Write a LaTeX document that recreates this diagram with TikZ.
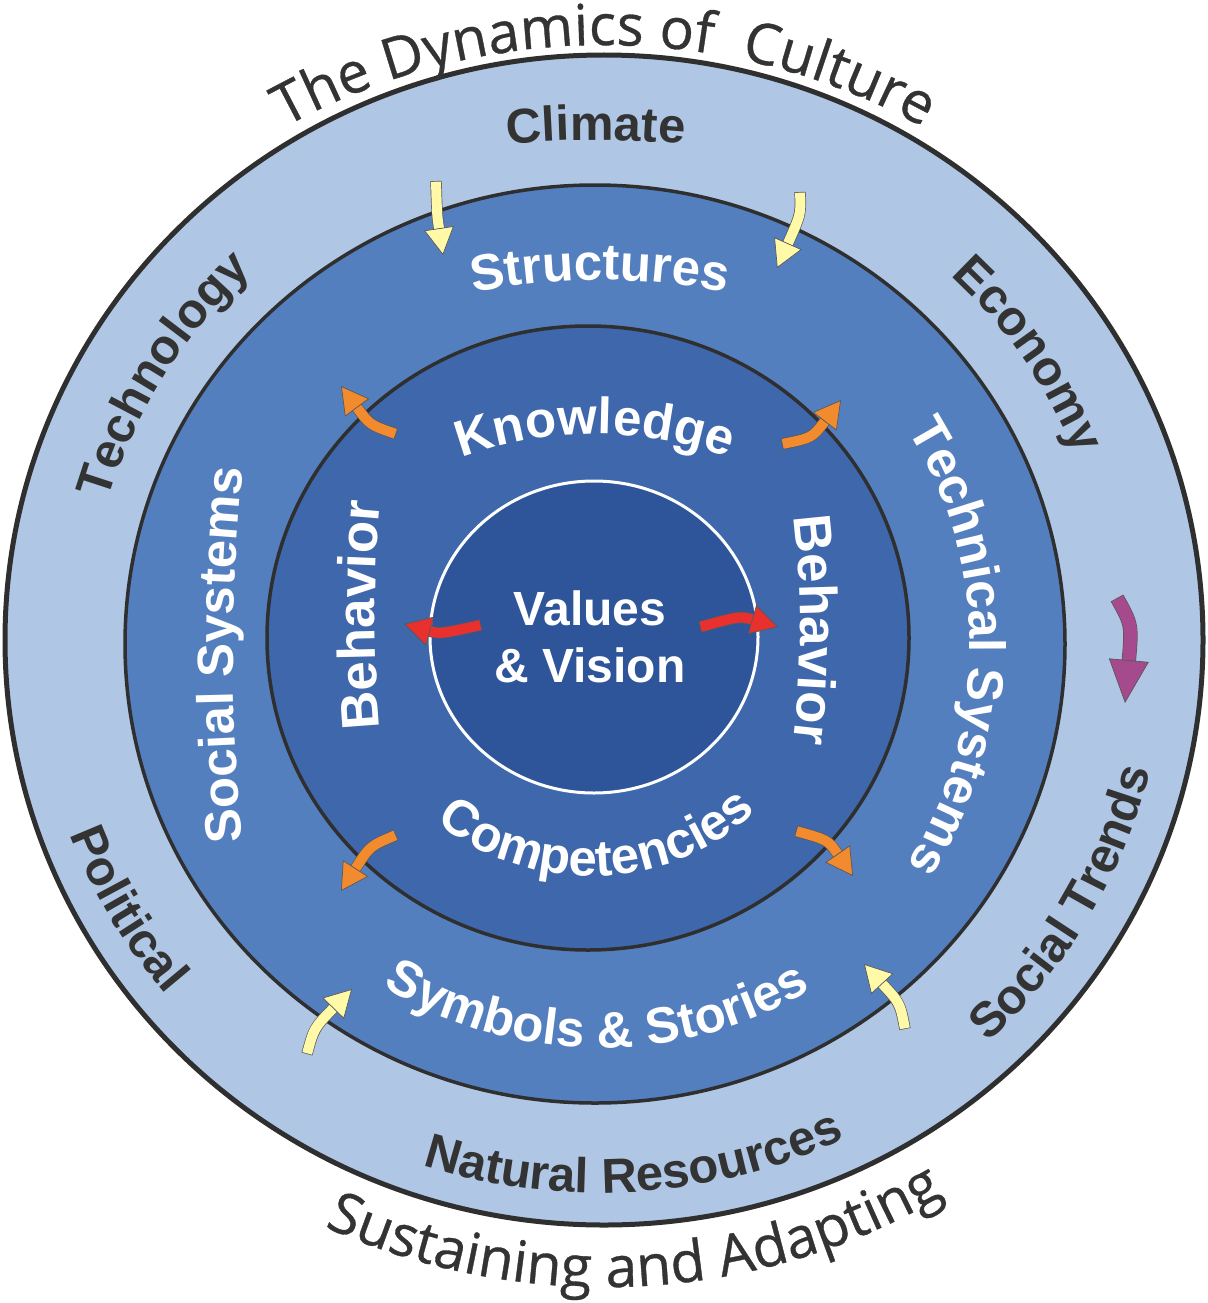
\documentclass[tikz,border=0pt]{standalone}
\usepackage{fontspec}
\newfontfamily\lsans{Liberation Sans}
\newfontfamily\osans{Open Sans}[FakeBold=0.6]
\usetikzlibrary{decorations.text,arrows.meta}
\definecolor{bandlight}{HTML}{AFC7E5}
\definecolor{bandmid}{HTML}{547FBF}
\definecolor{banddeep}{HTML}{3E67AC}
\definecolor{core}{HTML}{2E559A}
\definecolor{rim}{HTML}{2F2F2F}
\definecolor{labelgray}{HTML}{333333}
\definecolor{flowyellow}{HTML}{FFF9A8}
\definecolor{floworange}{HTML}{F28A2E}
\definecolor{flowred}{HTML}{E8302F}
\definecolor{flowpurple}{HTML}{A54A8D}
\newcommand{\titlefont}{\osans\fontsize{57}{57}\selectfont}
\newcommand{\ringfont}{\lsans\bfseries\fontsize{49}{49}\selectfont}
\newcommand{\bandfont}{\lsans\bfseries\fontsize{51}{51}\selectfont}
\newcommand{\behfont}{\lsans\bfseries\fontsize{53}{53}\selectfont}
\newcommand{\flow}[4]{%
  \draw[flowrim] #2 .. controls #3 .. #4;
  \draw[flowbody=#1] #2 .. controls #3 .. #4;}
\tikzset{
  ring/.style={draw=rim,line width=3.5pt},
  curved/.style={decorate,decoration={text along path,text align=center,text color=#1}},
  flowrim/.style={draw=rim!80,line width=11.4pt,shorten >=25pt},
  flowbody/.style={draw=#1,line width=10pt,shorten <=0.7pt,
    -{Triangle[width=30pt,length=27pt,fill=#1,color=rim!80,line width=0.7pt]}},
}
\begin{document}
\begin{tikzpicture}[x=1pt,y=1pt]
\useasboundingbox (0,0) rectangle (1207,-1303);
\draw[ring,fill=bandlight,line width=5pt] (604,-640) ellipse[x radius=599,y radius=585];
\draw[ring,fill=bandmid] (595,-644) ellipse[x radius=470,y radius=459];
\draw[ring,fill=banddeep] (588,-638) ellipse[x radius=321,y radius=312];
\draw[draw=white,line width=3pt,fill=core] (594,-637) ellipse[x radius=164,y radius=156];
\node[text=white,align=center,font=\lsans\bfseries\fontsize{48}{57}\selectfont] (vision) at (590,-637) {Values\\\& Vision};

\path[curved=labelgray,decoration={text={|\titlefont|The Dynamics of{\ } Culture}}] (604,-705) ++(130:660) arc[start angle=130,end angle=50,radius=660];
\path[curved=labelgray,decoration={text={|\titlefont|Sustaining and Adapting}}] (604,-640) ++(213:662 and 647) arc[start angle=213,end angle=333,x radius=662,y radius=647];

\path[curved=labelgray,decoration={text={|\ringfont|Climate}}] (596,-1040) ++(100:900) arc[start angle=100,end angle=80,radius=900];
\path[curved=labelgray,decoration={text={|\ringfont|Technology}}] (600,-640) ++(188.5:512 and 502) arc[start angle=188.5,end angle=108.5,x radius=512,y radius=502];
\path[curved=labelgray,decoration={text={|\ringfont|Economy}}] (600,-640) ++(74:512 and 500) arc[start angle=74,end angle=-6,x radius=512,y radius=500];
\path[curved=labelgray,decoration={text={|\ringfont|Political}}] (600,-640) ++(170:566 and 553) arc[start angle=170,end angle=250,x radius=566,y radius=553];
\path[curved=labelgray,decoration={text={|\ringfont|Social Trends}}] (600,-640) ++(290:566 and 553) arc[start angle=290,end angle=370,x radius=566,y radius=553];
\path[curved=labelgray,decoration={text={|\ringfont|Natural Resources}}] (600,-640) ++(228.7:566 and 553) arc[start angle=228.7,end angle=318.7,x radius=566,y radius=553];

\path[curved=white,decoration={text={|\bandfont|Structures}}] (600,-930) ++(115:650) arc[start angle=115,end angle=65,radius=650];
\path[curved=white,decoration={text={|\bandfont|Social Systems}}] (2020,-655) ++(195:1787) arc[start angle=195,end angle=165,radius=1787];
\path[curved=white,decoration={text={|\bandfont|Technical Systems}}] (560,-647) ++(55:410) arc[start angle=55,end angle=-55,radius=410];
\path[curved=white,decoration={text={|\bandfont|Symbols {\&} Stories}}] (600,-644) ++(214.5:410 and 404) arc[start angle=214.5,end angle=324.5,x radius=410,y radius=404];

\path[curved=white,decoration={text={|\bandfont|Knowledge}}] (595,-814) ++(125:380) arc[start angle=125,end angle=55,radius=380];
\path[curved=white,decoration={text={|\behfont|Behavior}}] (1632,-615) ++(190:1257) arc[start angle=190,end angle=170,radius=1257];
\path[curved=white,decoration={text={|\behfont|Behavior}}] (-134,-630) ++(15:934) arc[start angle=15,end angle=-15,radius=934];
\path[curved=white,decoration={text={|\bandfont|Competencies}}] (590,-638) ++(212:243 and 238) arc[start angle=212,end angle=332,x radius=243,y radius=238];

\flow{flowyellow}{(436,-181)}{(437,-215)}{(443,-255)}
\flow{flowyellow}{(800,-192)}{(801,-214)}{(777,-268)}
\flow{flowyellow}{(307,-1054)}{(314,-1028)}{(352,-989)}
\flow{flowyellow}{(905,-1029)}{(900,-1003)}{(864,-964)}
\flow{floworange}{(396,-434)}{(370,-425)}{(341,-386)}
\flow{floworange}{(782,-444)}{(812,-438)}{(841,-400)}
\flow{floworange}{(396,-835)}{(370,-846)}{(341,-891)}
\flow{floworange}{(796,-831)}{(828,-840)}{(853,-876)}
\flow{flowred}{(481,-625)}{(440,-634)}{(404,-624)}
\flow{flowred}{(700,-627)}{(740,-616)}{(778,-627)}
\draw[flowrim,line width=14.4pt,shorten >=40pt] (1117,-598) .. controls (1132,-625) .. (1125,-703);
\draw[flowbody=flowpurple,line width=13pt,-{Triangle[width=40pt,length=43pt,fill=flowpurple,color=rim!80,line width=0.7pt]}] (1117,-598) .. controls (1132,-625) .. (1125,-703);
\end{tikzpicture}
\end{document}
